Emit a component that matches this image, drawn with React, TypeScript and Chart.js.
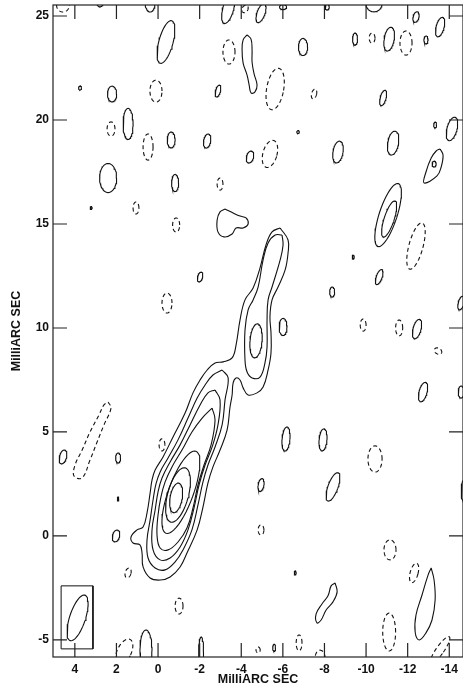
import React, { useEffect, useRef } from 'react';
import { Chart, registerables } from 'chart.js';

Chart.register(...registerables);

// ---- axes ----
const X_LEFT = 5.05;
const X_RIGHT = -14.66;
const Y_BOTTOM = -5.82;
const Y_TOP = 25.53;
const xTicks = [4, 2, 0, -2, -4, -6, -8, -10, -12, -14];
const yTicks = [-5, 0, 5, 10, 15, 20, 25];
const axisTitle = 'MilliARC SEC';

// ---- small contour islands: [x, y, halfWidth, halfHeight, tiltDeg] (mas) ----
const positiveBlobs: number[][] = [
  [2.79, 25.63, 0.14, 0.19, 0],
  [0.38, 25.67, 0.24, 0.48, 0],
  [-3.37, 25.34, 0.26, 0.72, 15],
  [-4.95, 25.14, 0.19, 0.48, 20],
  [-6.01, 25.43, 0.17, 0.12, 0],
  [-8.13, 25.43, 0.1, 0.14, 0],
  [-10.38, 25.58, 0.38, 0.38, 0],
  [-12.4, 24.95, 0.14, 0.26, 15],
  [-13.56, 24.47, 0.19, 0.48, 15],
  [2.21, 21.25, 0.22, 0.38, 0],
  [3.75, 21.54, 0.07, 0.1, 0],
  [-0.38, 23.75, 0.34, 1.06, 15],
  [-6.97, 23.51, 0.22, 0.41, 0],
  [-2.88, 21.39, 0.12, 0.29, 15],
  [-9.47, 23.89, 0.12, 0.29, 0],
  [-11.11, 23.89, 0.24, 0.58, 10],
  [-12.88, 23.85, 0.1, 0.19, 0],
  [-10.82, 21.06, 0.14, 0.38, 15],
  [1.44, 19.81, 0.24, 0.75, 0],
  [-0.63, 19.04, 0.19, 0.38, 0],
  [-2.36, 18.99, 0.17, 0.34, 10],
  [-6.73, 19.42, 0.06, 0.07, 0],
  [-4.42, 18.22, 0.17, 0.29, 15],
  [-8.65, 18.46, 0.24, 0.53, 10],
  [-11.3, 18.89, 0.26, 0.58, 10],
  [-13.32, 19.76, 0.07, 0.14, 0],
  [-14.13, 19.57, 0.24, 0.58, 15],
  [-13.27, 17.88, 0.1, 0.14, 0],
  [2.4, 17.21, 0.41, 0.7, 0],
  [3.22, 15.77, 0.05, 0.07, 0],
  [-0.82, 16.97, 0.17, 0.41, 0],
  [-11.06, 15.43, 0.43, 1.59, 18],
  [-11.11, 15.24, 0.24, 0.91, 18],
  [-9.38, 13.41, 0.05, 0.1, 0],
  [-10.63, 12.45, 0.14, 0.38, 20],
  [-8.37, 11.73, 0.12, 0.24, 0],
  [-14.57, 11.2, 0.14, 0.34, 15],
  [-2.02, 12.45, 0.12, 0.24, 15],
  [-6.01, 10.05, 0.19, 0.41, 0],
  [-12.45, 9.95, 0.19, 0.48, 15],
  [-12.74, 6.92, 0.19, 0.48, 15],
  [-14.57, 6.92, 0.14, 0.29, 0],
  [4.57, 3.8, 0.17, 0.34, 15],
  [1.92, 3.75, 0.12, 0.24, 0],
  [1.92, 1.78, 0.04, 0.1, 0],
  [-6.15, 4.66, 0.19, 0.58, 5],
  [-7.93, 4.62, 0.19, 0.53, 5],
  [-4.95, 2.45, 0.14, 0.31, 10],
  [-8.41, 2.36, 0.24, 0.72, 20],
  [-14.76, 2.16, 0.19, 0.58, 0],
  [2.02, 0, 0.17, 0.29, 15],
  [-6.59, -1.78, 0.05, 0.1, 0],
  [0.58, -5.48, 0.29, 0.96, 0],
  [-2.07, -5.58, 0.12, 0.72, 0],
  [-5.58, -5.38, 0.07, 0.17, 0],
  // jet: north knot and core peaks
  [-4.71, 9.38, 0.29, 0.82, 5],
  [-1.1, 2.1, 0.6, 2.1, 20],
  [-0.96, 1.97, 0.5, 1.35, 15],
  [-0.87, 1.83, 0.29, 0.72, 10],
];

const negativeBlobs: number[][] = [
  [4.57, 25.53, 0.31, 0.34, 0],
  [-4.18, 25.34, 0.14, 0.19, 30],
  [0.1, 21.39, 0.29, 0.53, 0],
  [-3.41, 23.27, 0.29, 0.58, 0],
  [-5.63, 21.49, 0.41, 1.01, 10],
  [-10.29, 23.94, 0.14, 0.24, 0],
  [-11.92, 23.7, 0.29, 0.58, 0],
  [-7.5, 21.25, 0.12, 0.24, 15],
  [2.26, 19.57, 0.19, 0.34, 0],
  [0.48, 18.7, 0.24, 0.63, 0],
  [-5.38, 18.37, 0.34, 0.67, 15],
  [1.06, 15.77, 0.14, 0.29, 0],
  [-2.98, 16.92, 0.14, 0.29, 0],
  [-0.87, 14.95, 0.17, 0.34, 0],
  [-12.4, 13.94, 0.34, 1.15, 15],
  [-0.43, 11.2, 0.24, 0.48, 0],
  [-9.86, 10.14, 0.14, 0.29, 0],
  [-11.59, 10.0, 0.17, 0.38, 0],
  [-13.46, 8.89, 0.19, 0.14, 30],
  [-0.19, 4.38, 0.14, 0.29, 0],
  [-10.43, 3.7, 0.34, 0.63, 0],
  [-4.95, 0.29, 0.14, 0.24, 0],
  [-11.15, -0.67, 0.29, 0.48, 0],
  [1.44, -1.78, 0.14, 0.24, 15],
  [-12.31, -1.78, 0.19, 0.48, 15],
  [-1.01, -3.37, 0.19, 0.38, 0],
  [-11.11, -4.62, 0.31, 0.91, 0],
  [1.63, -5.58, 0.34, 0.67, 25],
  [-4.81, -5.48, 0.1, 0.14, 0],
  [-6.78, -5.14, 0.14, 0.38, 0],
  [-7.79, -5.87, 0.24, 0.38, 0],
  [-13.56, -5.48, 0.19, 0.77, 35],
];

// ---- traced contours: lists of [x, y] (mas) ----
const jetLevel1: number[][] = [
  [-5.87, 14.81], [-6.25, 14.23], [-6.25, 13.61], [-6.11, 12.79], [-5.77, 11.97], [-5.48, 11.35],
  [-5.38, 10.53], [-5.43, 9.76], [-5.43, 8.8], [-5.29, 7.98], [-5.05, 7.16], [-4.76, 6.88],
  [-4.33, 6.78], [-4.09, 7.12], [-3.94, 7.5], [-3.75, 7.6], [-3.61, 7.36], [-3.56, 6.78],
  [-3.46, 6.2], [-3.32, 5.1], [-2.98, 4.13], [-2.64, 3.32], [-2.4, 2.55], [-2.16, 1.39],
  [-1.88, 0.29], [-1.39, -0.82], [-1.06, -1.49], [-0.58, -1.97], [-0.1, -2.12], [0.38, -2.02],
  [0.72, -1.49], [0.77, -0.82], [0.87, -0.43], [1.2, -0.34], [1.3, -0.05], [1.01, 0.29],
  [0.72, 0.43], [0.53, 1.11], [0.38, 2.07], [0.29, 2.69], [0.14, 3.17], [-0.24, 3.8],
  [-0.72, 4.76], [-1.3, 5.91], [-1.68, 6.88], [-2.02, 7.5], [-2.36, 7.98], [-2.74, 8.32],
  [-3.13, 8.37], [-3.56, 8.56], [-3.75, 9.18], [-3.94, 10.38], [-4.18, 11.35], [-4.57, 11.92],
  [-4.9, 12.88], [-5.19, 13.99], [-5.48, 14.62],
];
const jetNorthLevel2: number[][] = [
  [-5.96, 14.47], [-6.01, 13.99], [-5.87, 13.27], [-5.48, 11.97], [-5.29, 11.35], [-5.24, 10.38],
  [-5.24, 9.09], [-5.14, 8.32], [-4.9, 7.64], [-4.52, 7.6], [-4.28, 7.88], [-4.18, 8.46],
  [-4.18, 9.9], [-4.33, 10.87], [-4.57, 11.35], [-4.81, 11.97], [-5.05, 13.27], [-5.29, 14.09],
  [-5.63, 14.47],
];
const jetCoreLevel2: number[][] = [
  [-3.08, 7.98], [-3.37, 7.6], [-3.22, 6.54], [-3.08, 5.34], [-2.74, 4.28], [-2.4, 3.41],
  [-2.16, 2.6], [-1.92, 1.49], [-1.63, 0.29], [-1.2, -0.67], [-0.82, -1.25], [-0.34, -1.63],
  [0.14, -1.54], [0.48, -1.06], [0.53, -0.19], [0.38, 0.77], [0.24, 1.73], [0.1, 2.5],
  [-0.1, 3.08], [-0.48, 3.75], [-0.96, 4.62], [-1.44, 5.67], [-1.88, 6.63], [-2.26, 7.26],
  [-2.64, 7.74],
];
const jetCoreLevel3: number[][] = [
  [-2.74, 7.02], [-2.98, 6.54], [-2.88, 5.34], [-2.6, 4.28], [-2.26, 3.41], [-1.97, 2.45],
  [-1.73, 1.35], [-1.44, 0.29], [-1.06, -0.53], [-0.58, -1.06], [-0.1, -1.15], [0.24, -0.67],
  [0.29, 0.29], [0.14, 1.25], [0, 2.12], [-0.19, 2.79], [-0.58, 3.56], [-1.06, 4.38],
  [-1.54, 5.34], [-2.02, 6.3], [-2.4, 6.88],
];
const jetCoreLevel4: number[][] = [
  [-2.6, 6.15], [-2.74, 5.58], [-2.55, 4.38], [-2.21, 3.41], [-1.92, 2.45], [-1.68, 1.35],
  [-1.39, 0.38], [-0.96, -0.29], [-0.48, -0.67], [-0.1, -0.58], [0.05, 0.05], [0, 1.01],
  [-0.14, 1.88], [-0.34, 2.6], [-0.67, 3.32], [-1.15, 4.13], [-1.63, 5.0], [-2.12, 5.67],
];
const bottleBlob: number[][] = [
  [-4.28, 24.09], [-4.47, 23.89], [-4.52, 23.37], [-4.52, 22.79], [-4.62, 22.21], [-4.76, 21.68],
  [-4.66, 21.35], [-4.47, 21.3], [-4.38, 21.68], [-4.28, 22.16], [-4.09, 22.74], [-4.04, 23.37],
  [-4.09, 23.85],
];
const teardropBlob: number[][] = [
  [-13.56, 18.61], [-13.7, 18.32], [-13.61, 17.74], [-13.41, 17.31], [-12.79, 16.97],
  [-12.88, 17.5], [-13.13, 18.17], [-13.37, 18.51],
];
const lobedBlob: number[][] = [
  [-3.22, 15.72], [-3.61, 15.53], [-3.94, 15.38], [-4.23, 15.29], [-4.33, 15.0], [-4.09, 14.81],
  [-3.75, 14.81], [-3.56, 14.52], [-3.17, 14.38], [-2.88, 14.62], [-2.84, 15.19], [-2.98, 15.58],
];
const longSouthBlob: number[][] = [
  [-13.13, -1.54], [-13.27, -2.12], [-13.32, -3.08], [-13.17, -4.04], [-12.88, -4.66],
  [-12.55, -5.0], [-12.36, -4.62], [-12.4, -3.8], [-12.69, -2.84], [-12.98, -1.88],
];
const sockBlob: number[][] = [
  [-8.51, -2.26], [-8.61, -2.69], [-8.41, -3.17], [-8.08, -3.56], [-7.84, -4.04], [-7.64, -4.18],
  [-7.6, -3.75], [-7.88, -3.27], [-8.17, -2.88], [-8.32, -2.4],
];
const negativeStreak: number[][] = [
  [2.4, 6.44], [2.26, 6.15], [2.6, 5.34], [2.93, 4.52], [3.27, 3.65], [3.65, 2.79], [4.04, 2.88],
  [3.99, 3.41], [3.65, 4.13], [3.27, 5.0], [2.84, 5.82], [2.6, 6.3],
];

// restoring beam and its box
const beam: number[] = [3.87, -3.94, 0.38, 1.15, 18];
const beamBox: number[][] = [[4.66, -2.4], [3.13, -2.4], [3.13, -5.43], [4.66, -5.43], [4.66, -2.4]];

function ellipsePoints(b: number[]) {
  const [cx, cy, rx, ry, tilt] = b;
  const t = (tilt * Math.PI) / 180;
  const pts: { x: number; y: number }[] = [];
  const n = 48;
  for (let i = 0; i <= n; i++) {
    const a = (i / n) * Math.PI * 2;
    const u = rx * Math.cos(a);
    const v = ry * Math.sin(a);
    const right = u * Math.cos(t) + v * Math.sin(t);
    const up = -u * Math.sin(t) + v * Math.cos(t);
    pts.push({ x: cx - right, y: cy + up });
  }
  return pts;
}

function closed(list: number[][]) {
  const pts = list.map(([x, y]) => ({ x, y }));
  pts.push({ ...pts[0] });
  return pts;
}

const LINE = '#111';

export default function App() {
  const ref = useRef<HTMLCanvasElement | null>(null);

  useEffect(() => {
    if (!ref.current) return;
    const datasets: any[] = [];
    const base = { showLine: true, pointRadius: 0, borderColor: LINE, borderWidth: 1.1, fill: false };
    positiveBlobs.forEach((b) => datasets.push({ ...base, data: ellipsePoints(b), tension: 0 }));
    negativeBlobs.forEach((b) =>
      datasets.push({ ...base, data: ellipsePoints(b), tension: 0, borderDash: [4, 3] })
    );
    [jetLevel1, jetNorthLevel2, jetCoreLevel2, jetCoreLevel3, jetCoreLevel4, bottleBlob, teardropBlob, lobedBlob, longSouthBlob, sockBlob].forEach(
      (c) => datasets.push({ ...base, data: closed(c), tension: 0.4 })
    );
    datasets.push({ ...base, data: closed(negativeStreak), tension: 0.4, borderDash: [4, 3] });
    datasets.push({ ...base, data: ellipsePoints(beam), tension: 0 });
    datasets.push({ ...base, data: beamBox.map(([x, y]) => ({ x, y })), tension: 0, borderWidth: 1 });

    const framePlugin = {
      id: 'frame',
      afterDatasetsDraw(chart: any) {
        const { ctx, chartArea: a, scales } = chart;
        const xs = scales.x;
        const ys = scales.y;
        ctx.save();
        ctx.strokeStyle = '#222';
        ctx.lineWidth = 1.2;
        ctx.strokeRect(a.left, a.top, a.right - a.left, a.bottom - a.top);
        const L = 14;
        ctx.beginPath();
        xTicks.forEach((v) => {
          const p = xs.getPixelForValue(v);
          ctx.moveTo(p, a.bottom);
          ctx.lineTo(p, a.bottom - L);
          ctx.moveTo(p, a.top);
          ctx.lineTo(p, a.top + L);
        });
        yTicks.forEach((v) => {
          const p = ys.getPixelForValue(v);
          ctx.moveTo(a.left, p);
          ctx.lineTo(a.left + L, p);
          ctx.moveTo(a.right, p);
          ctx.lineTo(a.right - L, p);
        });
        ctx.stroke();
        ctx.restore();
      },
    };

    const font = { family: "'Liberation Sans', Arial, sans-serif", weight: 'bold' as const, size: 12 };
    const chart = new Chart(ref.current, {
      type: 'scatter',
      data: { datasets },
      options: {
        animation: false,
        responsive: false,
        events: [],
        layout: { padding: { top: 5, right: 7, bottom: 0, left: 0 } },
        plugins: { legend: { display: false }, tooltip: { enabled: false } },
        scales: {
          x: {
            type: 'linear',
            reverse: true,
            min: X_RIGHT,
            max: X_LEFT,
            grid: { display: false, drawTicks: false },
            border: { display: false },
            afterBuildTicks: (s: any) => {
              s.ticks = xTicks.map((v) => ({ value: v }));
            },
            afterFit: (s: any) => {
              s.height = 31;
              s.paddingLeft = 0;
              s.paddingRight = 0;
              s.paddingTop = 0;
              s.paddingBottom = 0;
            },
            ticks: { color: '#111', font, padding: 5, maxRotation: 0, autoSkip: false, callback: (v: any) => String(v) },
            title: { display: true, text: axisTitle, color: '#111', font: { ...font, size: 12.5 }, padding: { top: 0, bottom: 1 } },
          },
          y: {
            type: 'linear',
            min: Y_BOTTOM,
            max: Y_TOP,
            grid: { display: false, drawTicks: false },
            border: { display: false },
            afterBuildTicks: (s: any) => {
              s.ticks = yTicks.map((v) => ({ value: v }));
            },
            afterFit: (s: any) => {
              s.width = 53;
              s.paddingTop = 0;
              s.paddingBottom = 0;
              s.paddingLeft = 0;
              s.paddingRight = 0;
            },
            ticks: { color: '#111', font, padding: 4, autoSkip: false, callback: (v: any) => String(v) },
            title: { display: true, text: axisTitle, color: '#111', font: { ...font, size: 12.5 }, padding: { top: 9, bottom: 0 } },
          },
        },
      },
      plugins: [framePlugin],
    });
    return () => chart.destroy();
  }, []);

  return (
    <div style={{ position: 'fixed', left: 0, top: 0, width: 470, height: 688, background: '#fff' }}>
      <canvas ref={ref} width={470} height={688} style={{ width: 470, height: 688, display: 'block' }} />
    </div>
  );
}
